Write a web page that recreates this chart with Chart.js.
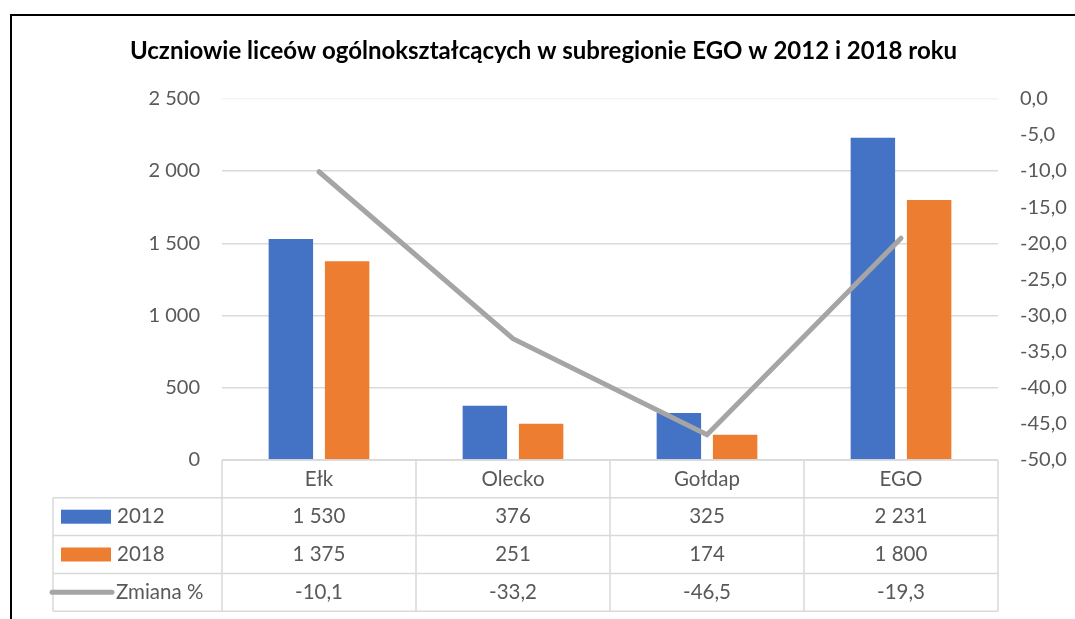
<!DOCTYPE html>
<html>
<head>
<meta charset="utf-8">
<script src="https://cdn.jsdelivr.net/npm/chart.js@4"></script>
<style>
  html, body { margin: 0; padding: 0; background: #fff; }
  #wrap { position: relative; width: 1075px; height: 619px; }
  #frame { position: absolute; left: 10px; top: 14px; right: -2px; bottom: -2px; border-top: 2px solid #000; border-left: 2px solid #000; pointer-events: none; }
</style>
</head>
<body>
<div id="wrap">
  <canvas id="chart" width="1075" height="619"></canvas>
  <div id="frame"></div>
</div>
<script>
// dane
const categories = ['Ełk', 'Olecko', 'Gołdap', 'EGO'];
const values2012 = [1530, 376, 325, 2231];
const values2018 = [1375, 251, 174, 1800];
const changePct = [-10.1, -33.2, -46.5, -19.3];
const seriesNames = ['2012', '2018', 'Zmiana %'];

const FONT = 'Lato, "Noto Sans", sans-serif';
const BLUE = '#4472c4', ORANGE = '#ed7d31', GRAY = '#a5a5a5', GRID = '#d9d9d9', TXT = '#595959';

const fmtInt = v => Math.round(v).toString().replace(/\B(?=(\d{3})+(?!\d))/g, ' ');
const fmtDec = v => v.toFixed(1).replace('.', ',');

// tabela danych pod wykresem
const dataTable = {
  id: 'dataTable',
  afterDraw(chart) {
    const ctx = chart.ctx;
    const x = chart.scales.x;
    const area = chart.chartArea;
    const rowH = 37.8;
    const top = area.bottom;
    const leftCol = 53;
    const rows = [values2012.map(fmtInt), values2018.map(fmtInt), changePct.map(fmtDec)];
    ctx.save();
    ctx.strokeStyle = GRID;
    ctx.lineWidth = 1.5;
    // poziome linie
    ctx.beginPath();
    ctx.moveTo(area.left, top); ctx.lineTo(area.right, top);
    for (let r = 1; r <= 4; r++) {
      const y = top + r * rowH;
      ctx.moveTo(leftCol, y); ctx.lineTo(area.right, y);
    }
    // pionowe linie
    const step = (area.right - area.left) / categories.length;
    for (let c = 0; c <= categories.length; c++) {
      const xx = area.left + c * step;
      ctx.moveTo(xx, top); ctx.lineTo(xx, top + 4 * rowH);
    }
    ctx.moveTo(leftCol, top + rowH); ctx.lineTo(leftCol, top + 4 * rowH);
    ctx.stroke();

    ctx.fillStyle = TXT;
    ctx.font = '20.5px ' + FONT;
    ctx.textAlign = 'center';
    ctx.textBaseline = 'middle';
    categories.forEach((c, i) => {
      const cx = x.getPixelForValue(i);
      ctx.fillText(c, cx, top + rowH / 2);
      rows.forEach((row, r) => ctx.fillText(row[i], cx, top + (r + 1.5) * rowH));
    });

    // legenda w tabeli
    ctx.textAlign = 'left';
    const y1 = top + 1.5 * rowH, y2 = top + 2.5 * rowH, y3 = top + 3.5 * rowH;
    ctx.fillStyle = BLUE; ctx.fillRect(61, y1 - 7, 50, 14);
    ctx.fillStyle = ORANGE; ctx.fillRect(61, y2 - 7, 50, 14);
    ctx.strokeStyle = GRAY; ctx.lineWidth = 5; ctx.lineCap = 'round';
    ctx.beginPath(); ctx.moveTo(52, y3); ctx.lineTo(112, y3); ctx.stroke();
    ctx.fillStyle = TXT;
    ctx.fillText(seriesNames[0], 117, y1);
    ctx.fillText(seriesNames[1], 117, y2);
    ctx.fillText(seriesNames[2], 116, y3);
    ctx.restore();
  }
};

new Chart(document.getElementById('chart'), {
  data: {
    labels: categories,
    datasets: [
      { type: 'line', label: seriesNames[2], data: changePct, yAxisID: 'y1', borderColor: GRAY, borderWidth: 5, pointRadius: 0, borderCapStyle: 'round', tension: 0, order: 0 },
      { type: 'bar', label: seriesNames[0], data: values2012, yAxisID: 'y', backgroundColor: BLUE, categoryPercentage: 0.58, barPercentage: 0.79, order: 1 },
      { type: 'bar', label: seriesNames[1], data: values2018, yAxisID: 'y', backgroundColor: ORANGE, categoryPercentage: 0.58, barPercentage: 0.79, order: 1 }
    ]
  },
  options: {
    responsive: false,
    animation: false,
    layout: { padding: { left: 12, right: 0, top: 37, bottom: 151 } },
    plugins: {
      legend: { display: false },
      tooltip: { enabled: false },
      title: {
        display: true,
        text: 'Uczniowie liceów ogólnokształcących w subregionie EGO w 2012 i 2018 roku',
        color: '#000',
        font: { family: FONT, size: 24, weight: 'bold' },
        padding: { top: 0, bottom: 33 }
      }
    },
    scales: {
      x: {
        ticks: { display: false },
        grid: { display: false },
        border: { display: false }
      },
      y: {
        position: 'left',
        min: 0, max: 2500,
        ticks: { stepSize: 500, color: TXT, font: { family: FONT, size: 20 }, padding: 22, callback: v => fmtInt(v) },
        grid: { color: ctx => ctx.tick && ctx.tick.value === 2500 ? '#f4f4f4' : GRID, lineWidth: 1.5, drawTicks: false },
        border: { display: false },
        afterFit: s => { s.width = 210; }
      },
      y1: {
        position: 'right',
        min: -50, max: 0,
        ticks: { stepSize: 5, color: TXT, font: { family: FONT, size: 20 }, padding: 22, callback: v => fmtDec(v) },
        grid: { display: false, drawTicks: false },
        border: { display: false },
        afterFit: s => { s.width = 77; }
      }
    }
  },
  plugins: [dataTable]
});
</script>
</body>
</html>
